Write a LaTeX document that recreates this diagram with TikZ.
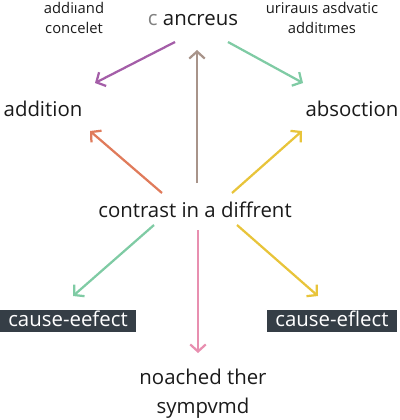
\documentclass[tikz,border=0pt]{standalone}
\usepackage{fontspec}
\setmainfont{Open Sans}
\usetikzlibrary{arrows.meta}
\definecolor{txt}{HTML}{1A1A1A}
\definecolor{cpurple}{HTML}{A45EA8}
\definecolor{cgreen}{HTML}{7FCBA4}
\definecolor{cbrown}{HTML}{A8948A}
\definecolor{corange}{HTML}{E07B5B}
\definecolor{cyellow}{HTML}{E8C43A}
\definecolor{cpink}{HTML}{E88FB0}
\definecolor{boxc}{HTML}{353E46}
\begin{document}
\begin{tikzpicture}[x=0.025cm,y=-0.025cm,
  lbl/.style={font=\fontsize{14.5}{20.6}\selectfont, text=txt, inner sep=0, align=center},
  small/.style={font=\fontsize{10.5}{14.6}\selectfont, text=txt, inner sep=0, align=center},
  dbox/.style={fill=boxc, text=white, font=\fontsize{14.5}{17}\selectfont, inner sep=0,
    text height=7.8pt, text depth=0pt, minimum height=0.55cm},
  arr/.style={line width=1.6pt, -{Straight Barb[length=5pt,width=11pt]}}]
\useasboundingbox (0,0) rectangle (400,420);
% labels
\node[small] (tl) at (74,18) {addiıand\\concelet};
\node[small] (tr) at (322,18) {urirauıs asdvatic\\additımes};
\node[lbl, anchor=base] (top) at (193,26) {{\color{gray}c} ancreus};
\node[lbl, anchor=base] (add) at (43,116) {addition};
\node[lbl, anchor=base] (abs) at (352,116) {absoction};
\node[lbl, anchor=base] (mid) at (195,217) {contrast in a diffrent};
\node[dbox, minimum width=3.4cm] (cl) at (68,321) {cause-eefect};
\node[dbox, minimum width=3.25cm] (cr) at (332,321) {cause-eflect};
\node[lbl] (bot) at (203,394) {noached ther\\sympvmd};
% connector end points
\coordinate (p1) at (175,42);  \coordinate (p2) at (95,83);
\coordinate (g1) at (228,42);  \coordinate (g2) at (303,83);
\coordinate (b1) at (197,183); \coordinate (b2) at (197,50);
\coordinate (o1) at (162,193); \coordinate (o2) at (90,131);
\coordinate (y1) at (232,193); \coordinate (y2) at (302,131);
\coordinate (h1) at (154,225); \coordinate (h2) at (73,296);
\coordinate (k1) at (198,230); \coordinate (k2) at (198,353);
\coordinate (z1) at (237,225); \coordinate (z2) at (318,296);
% connectors
\draw[arr, cpurple] (p1) -- (p2);
\draw[arr, cgreen] (g1) -- (g2);
\draw[arr, cbrown] (b1) -- (b2);
\draw[arr, corange] (o1) -- (o2);
\draw[arr, cyellow] (y1) -- (y2);
\draw[arr, cgreen] (h1) -- (h2);
\draw[arr, cpink] (k1) -- (k2);
\draw[arr, cyellow] (z1) -- (z2);
\end{tikzpicture}
\end{document}
